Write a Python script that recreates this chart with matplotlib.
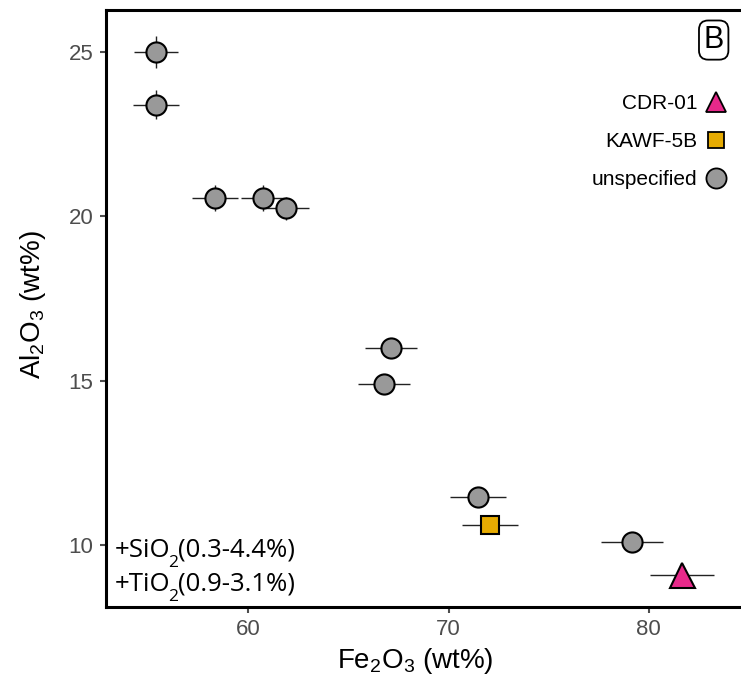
import numpy as np
import matplotlib.pyplot as plt
from matplotlib.lines import Line2D

plt.rcParams['font.family'] = ['Liberation Sans', 'DejaVu Sans']
plt.rcParams['mathtext.default'] = 'regular'

# unspecified samples
fe_unspec = [55.4, 55.4, 58.35, 60.75, 61.9, 67.15, 66.8, 71.45, 79.15]
al_unspec = [25.0, 23.4, 20.55, 20.55, 20.25, 16.0, 14.9, 11.45, 10.1]
fe_err_unspec = [1.1, 1.15, 1.15, 1.1, 1.15, 1.3, 1.3, 1.4, 1.55]
al_err_unspec = [0.5, 0.45, 0.4, 0.4, 0.35, 0.25, 0.25, 0.25, 0.25]

# named samples
fe_kawf = [72.05]
al_kawf = [10.6]
fe_err_kawf = [1.4]
al_err_kawf = [0.25]

fe_cdr = [81.65]
al_cdr = [9.1]
fe_err_cdr = [1.6]
al_err_cdr = [0.25]

legend_labels = ['CDR-01', 'KAWF-5B', 'unspecified']
extra_oxides = [('+SiO', '2', '(0.3-4.4%)'), ('+TiO', '2', '(0.9-3.1%)')]

fig = plt.figure(figsize=(7.41, 6.82), dpi=100)
ax = fig.add_axes([0.143, 0.110, 0.857, 0.875])

ebkw = dict(fmt='none', ecolor='#222222', elinewidth=1.0, capsize=0, zorder=2)
ax.errorbar(fe_unspec, al_unspec, xerr=fe_err_unspec, yerr=al_err_unspec, **ebkw)
ax.errorbar(fe_kawf, al_kawf, xerr=fe_err_kawf, yerr=al_err_kawf, **ebkw)
ax.errorbar(fe_cdr, al_cdr, xerr=fe_err_cdr, yerr=al_err_cdr, **ebkw)

ax.plot(fe_unspec, al_unspec, 'o', ms=14.5, mfc='#999999', mec='black', mew=1.5, zorder=3)
ax.plot(fe_kawf, al_kawf, 's', ms=13, mfc='#E6AB02', mec='black', mew=1.5, zorder=3)
ax.plot(fe_cdr, al_cdr, '^', ms=18, mfc='#E7298A', mec='black', mew=1.5, zorder=3)

ax.set_xlim(52.9, 84.6)
ax.set_ylim(8.12, 26.27)
ax.set_xticks([60, 70, 80])
ax.set_yticks([10, 15, 20, 25])
ax.tick_params(colors='#4D4D4D', labelsize=16, length=4, width=1.5, pad=5)

for s in ['left', 'bottom', 'top']:
    ax.spines[s].set_linewidth(2.2)
ax.spines['right'].set_visible(False)

ax.set_xlabel('Fe$_2$O$_3$ (wt%)', fontsize=20)
ax.set_ylabel('Al$_2$O$_3$ (wt%)', fontsize=20)
ax.xaxis.set_label_coords(0.487, -0.066)
ax.yaxis.set_label_coords(-0.092, 0.506)

handles = [
    Line2D([], [], ls='none', marker='^', ms=15, mfc='#E7298A', mec='black', mew=1.3),
    Line2D([], [], ls='none', marker='s', ms=12, mfc='#E6AB02', mec='black', mew=1.3),
    Line2D([], [], ls='none', marker='o', ms=14.5, mfc='#999999', mec='black', mew=1.3),
]
ax.legend(handles, legend_labels, loc='upper right', bbox_to_anchor=(0.990, 0.873),
          borderaxespad=0, frameon=False, markerfirst=False, fontsize=15,
          handletextpad=0.4, labelspacing=0.9, handlelength=1.0)

ax.text(0.957, 0.950, 'B', transform=ax.transAxes, fontsize=22, ha='center', va='center',
        bbox=dict(boxstyle='round,pad=0.15,rounding_size=0.3', fc='white', ec='black', lw=1.3))

ann_font = ['Open Sans', 'DejaVu Sans']
for (head, sub, tail), yb in zip(extra_oxides, [0.0838, 0.0268]):
    t1 = ax.text(0.0142, yb, head, transform=ax.transAxes, fontsize=18.5,
                 family=ann_font, va='baseline', ha='left')
    t2 = ax.annotate(sub, xy=(1, 0), xycoords=t1, xytext=(-1.5, -6.0),
                     textcoords='offset points', fontsize=12.5, family=ann_font,
                     va='bottom', ha='left')
    ax.annotate(tail, xy=(1, 0), xycoords=(t2, t1), xytext=(-0.5, 0),
                textcoords='offset points', fontsize=18.5, family=ann_font,
                va='bottom', ha='left')

fig.savefig('out.png', dpi=100)
